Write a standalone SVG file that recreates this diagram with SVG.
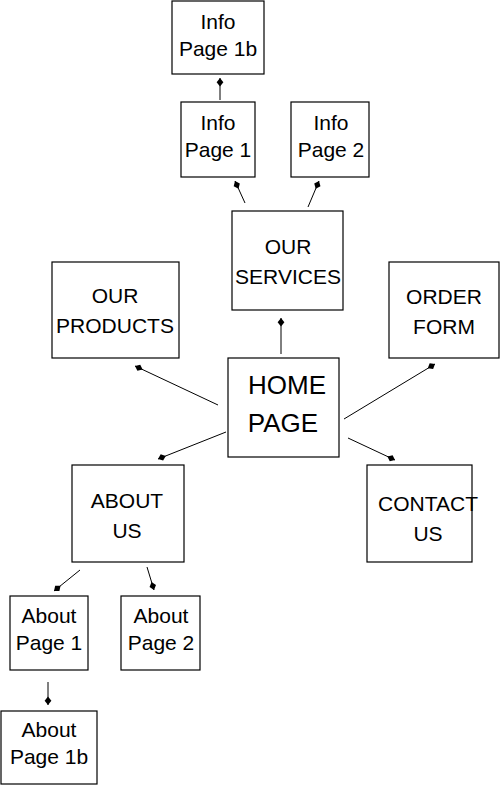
<svg xmlns="http://www.w3.org/2000/svg" width="500" height="785" viewBox="0 0 500 785">
<style>
rect{fill:#fff;stroke:#000;stroke-width:1.2}
text{font-family:"Liberation Sans",Arial,sans-serif;font-size:21px;text-anchor:middle;fill:#000}
.big{font-size:26px}
.c line{stroke:#000;stroke-width:1}
</style>
<defs>
<marker id="a" markerUnits="userSpaceOnUse" markerWidth="12" markerHeight="10" viewBox="-8 -4 10 8" refX="0" refY="0" orient="auto">
<path d="M0,0 L-3.5,-2.8 L-7,0 L-3.5,2.8 Z" fill="#000"/>
</marker>
</defs>
<g id="info1b"><rect x="172" y="1" width="92" height="73"/><text x="218" y="29">Info</text><text x="218" y="56">Page 1b</text></g>
<g id="info1"><rect x="181" y="102" width="74" height="75"/><text x="218" y="130">Info</text><text x="218" y="157">Page 1</text></g>
<g id="info2"><rect x="291" y="102" width="78" height="75"/><text x="331" y="130">Info</text><text x="331" y="157">Page 2</text></g>
<g id="services"><rect x="232" y="211" width="111" height="99"/><text x="288" y="254">OUR</text><text x="288" y="284">SERVICES</text></g>
<g id="products"><rect x="52" y="262" width="127" height="96"/><text x="115" y="303">OUR</text><text x="115" y="333">PRODUCTS</text></g>
<g id="order"><rect x="389" y="262" width="110" height="96"/><text x="444" y="304">ORDER</text><text x="444" y="334">FORM</text></g>
<g id="home"><rect x="228" y="358" width="111" height="99"/><text class="big" x="287" y="394">HOME</text><text class="big" x="283" y="432">PAGE</text></g>
<g id="about"><rect x="72" y="465" width="112" height="97"/><text x="127" y="508">ABOUT</text><text x="127" y="538">US</text></g>
<g id="contact"><rect x="367" y="465" width="105" height="97"/><text x="428" y="511">CONTACT</text><text x="428" y="541">US</text></g>
<g id="about1"><rect x="10" y="596" width="78" height="74"/><text x="49" y="623">About</text><text x="49" y="650">Page 1</text></g>
<g id="about2"><rect x="121" y="596" width="79" height="74"/><text x="161" y="623">About</text><text x="161" y="650">Page 2</text></g>
<g id="about1b"><rect x="1" y="711" width="96" height="73"/><text x="49" y="737">About</text><text x="49" y="764">Page 1b</text></g>
<g class="c" id="connectors">
<line x1="220" y1="100" x2="220" y2="78" marker-end="url(#a)"/>
<line x1="245" y1="203" x2="235" y2="181" marker-end="url(#a)"/>
<line x1="308" y1="207" x2="319" y2="181" marker-end="url(#a)"/>
<line x1="281" y1="354" x2="281" y2="318" marker-end="url(#a)"/>
<line x1="218" y1="405" x2="135" y2="366" marker-end="url(#a)"/>
<line x1="226" y1="432" x2="158" y2="459" marker-end="url(#a)"/>
<line x1="344" y1="419" x2="435" y2="364" marker-end="url(#a)"/>
<line x1="348" y1="438" x2="395" y2="460" marker-end="url(#a)"/>
<line x1="80" y1="570" x2="54" y2="591" marker-end="url(#a)"/>
<line x1="147" y1="567" x2="154" y2="590" marker-end="url(#a)"/>
<line x1="48" y1="682" x2="48" y2="705" marker-end="url(#a)"/>
</g>
</svg>
